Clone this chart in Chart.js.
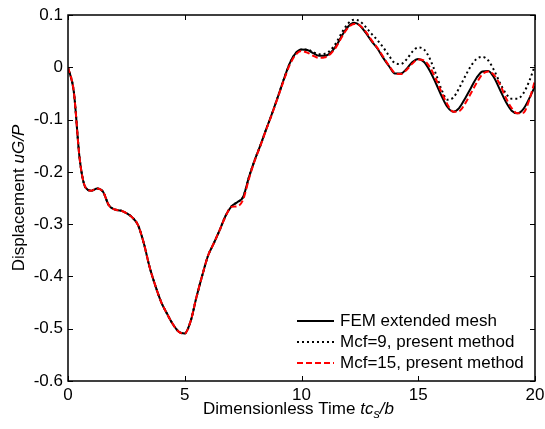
<!DOCTYPE html>
<html>
<head>
<meta charset="utf-8">
<script src="https://cdn.jsdelivr.net/npm/chart.js@4.4.0/dist/chart.umd.min.js"></script>
<style>
  html, body { margin: 0; padding: 0; background: #fff; }
</style>
</head>
<body>
<canvas id="myChart" width="545" height="429"></canvas>
<script>
// dimensionless time tc_s/b
let times = [0, 0.25, 0.5, 0.75, 1, 1.25, 1.5, 1.75, 2, 2.25, 2.5, 2.75, 3, 3.25, 3.5, 3.75,
  4, 4.25, 4.5, 4.75, 5, 5.25, 5.5, 5.75, 6, 6.25, 6.5, 6.75, 7, 7.25, 7.5, 7.75,
  8, 8.25, 8.5, 8.75, 9, 9.25, 9.5, 9.75, 10, 10.25, 10.5, 10.75, 11, 11.25, 11.5, 11.75,
  12, 12.25, 12.5, 12.75, 13, 13.25, 13.5, 13.75, 14, 14.25, 14.5, 14.75, 15, 15.25, 15.5, 15.75,
  16, 16.25, 16.5, 16.75, 17, 17.25, 17.5, 17.75, 18, 18.25, 18.5, 18.75, 19, 19.25, 19.5, 19.75, 20];

// FEM extended mesh
let femValues = [0, -0.047, -0.175, -0.230, -0.236, -0.232, -0.238, -0.264, -0.272, -0.274, -0.279, -0.287, -0.302, -0.337, -0.383, -0.419,
  -0.450, -0.472, -0.492, -0.506, -0.509, -0.486, -0.440, -0.398, -0.360, -0.336, -0.311, -0.284, -0.266, -0.258, -0.248, -0.210,
  -0.177, -0.148, -0.117, -0.087, -0.055, -0.022, 0.008, 0.027, 0.034, 0.033, 0.027, 0.022, 0.022, 0.028, 0.042, 0.062,
  0.078, 0.085, 0.080, 0.066, 0.050, 0.036, 0.018, 0.002, -0.012, -0.012, -0.003, 0.010, 0.016, 0.010, -0.007, -0.030,
  -0.055, -0.076, -0.085, -0.078, -0.060, -0.040, -0.020, -0.008, -0.007, -0.020, -0.043, -0.066, -0.083, -0.088, -0.080, -0.060, -0.036];

// Mcf=9, present method
let mcf9Values = [0, -0.047, -0.175, -0.230, -0.236, -0.232, -0.238, -0.264, -0.272, -0.274, -0.279, -0.287, -0.302, -0.337, -0.383, -0.419,
  -0.450, -0.472, -0.492, -0.506, -0.509, -0.486, -0.440, -0.398, -0.360, -0.336, -0.311, -0.284, -0.266, -0.258, -0.248, -0.210,
  -0.177, -0.148, -0.117, -0.087, -0.055, -0.022, 0.008, 0.027, 0.034, 0.034, 0.029, 0.025, 0.026, 0.033, 0.048, 0.068,
  0.084, 0.091, 0.088, 0.077, 0.064, 0.052, 0.038, 0.022, 0.008, 0.006, 0.015, 0.030, 0.038, 0.034, 0.016, -0.012,
  -0.043, -0.062, -0.058, -0.040, -0.018, 0.002, 0.016, 0.020, 0.013, -0.006, -0.030, -0.050, -0.060, -0.060, -0.050, -0.027, 0.004];

// Mcf=15, present method
let mcf15Values = [0, -0.047, -0.175, -0.230, -0.236, -0.232, -0.238, -0.264, -0.272, -0.274, -0.279, -0.287, -0.302, -0.337, -0.383, -0.419,
  -0.450, -0.472, -0.492, -0.506, -0.509, -0.486, -0.440, -0.398, -0.360, -0.336, -0.311, -0.285, -0.267, -0.266, -0.253, -0.213,
  -0.178, -0.149, -0.118, -0.088, -0.056, -0.024, 0.005, 0.024, 0.031, 0.028, 0.022, 0.018, 0.019, 0.026, 0.040, 0.060,
  0.076, 0.083, 0.080, 0.068, 0.052, 0.037, 0.020, 0.003, -0.011, -0.013, -0.005, 0.007, 0.015, 0.013, 0.000, -0.022,
  -0.048, -0.071, -0.085, -0.084, -0.070, -0.050, -0.030, -0.013, -0.008, -0.015, -0.033, -0.058, -0.078, -0.088, -0.087, -0.063, -0.025];

let legendLabels = ['FEM extended mesh', 'Mcf=9, present method', 'Mcf=15, present method'];

const FONT = '"Liberation Sans", Arial, sans-serif';
const FS = 17;

function toPoints(values) {
  return times.map((t, i) => ({ x: t, y: values[i] }));
}

// box round the plot with inward ticks, like matlab
const framePlugin = {
  id: 'frame',
  afterDatasetsDraw(chart) {
    const ctx = chart.ctx;
    const a = chart.chartArea;
    const xs = chart.scales.x, ys = chart.scales.y;
    ctx.save();
    ctx.strokeStyle = '#000';
    ctx.lineWidth = 1.5;
    ctx.strokeRect(a.left, a.top, a.right - a.left, a.bottom - a.top);
    ctx.lineWidth = 1;
    ctx.beginPath();
    xs.ticks.forEach(t => {
      const px = Math.round(xs.getPixelForValue(t.value)) + 0.5;
      ctx.moveTo(px, a.bottom); ctx.lineTo(px, a.bottom - 5);
      ctx.moveTo(px, a.top); ctx.lineTo(px, a.top + 5);
    });
    ys.ticks.forEach(t => {
      const py = Math.round(ys.getPixelForValue(t.value)) + 0.5;
      ctx.moveTo(a.left, py); ctx.lineTo(a.left + 5, py);
      ctx.moveTo(a.right, py); ctx.lineTo(a.right - 5, py);
    });
    ctx.stroke();
    ctx.restore();
  }
};

// draw a run of text pieces, each {text, italic, sub}
function drawRun(ctx, pieces, size, cx, cy) {
  const fontFor = p => (p.italic ? 'italic ' : '') + (p.sub ? size * 0.75 : size) + 'px ' + FONT;
  let total = 0;
  pieces.forEach(p => { ctx.font = fontFor(p); total += ctx.measureText(p.text).width; });
  let x = cx - total / 2;
  ctx.textAlign = 'left';
  ctx.textBaseline = 'middle';
  pieces.forEach(p => {
    ctx.font = fontFor(p);
    ctx.fillText(p.text, x, cy + (p.sub ? size * 0.35 : 0));
    x += ctx.measureText(p.text).width;
  });
}

const labelsPlugin = {
  id: 'labels',
  afterDraw(chart) {
    const ctx = chart.ctx;
    const a = chart.chartArea;
    ctx.save();
    ctx.fillStyle = '#000';
    // x axis title
    drawRun(ctx, [
      { text: 'Dimensionless Time ' },
      { text: 'tc', italic: true },
      { text: 's', italic: true, sub: true },
      { text: '/b', italic: true }
    ], FS, (a.left + a.right) / 2 - 3, 409);
    // y axis title
    ctx.save();
    ctx.translate(19, (a.top + a.bottom) / 2);
    ctx.rotate(-Math.PI / 2);
    drawRun(ctx, [
      { text: 'Displacement ' },
      { text: 'uG/P', italic: true }
    ], FS, 0, 0);
    ctx.restore();

    // legend
    const rows = [321, 342, 363];
    chart.data.datasets.forEach((ds, i) => {
      const y = rows[i];
      ctx.save();
      ctx.strokeStyle = ds.borderColor;
      ctx.lineWidth = ds.borderWidth;
      ctx.setLineDash(ds.borderDash || []);
      ctx.beginPath();
      ctx.moveTo(297, y); ctx.lineTo(334, y);
      ctx.stroke();
      ctx.restore();
      ctx.font = FS + 'px ' + FONT;
      ctx.textAlign = 'left';
      ctx.textBaseline = 'middle';
      ctx.fillText(legendLabels[i], 340, y);
    });
    ctx.restore();
  }
};

function fmtTick(v) {
  const r = Math.round(v * 10) / 10;
  return r === 0 ? '0' : String(r);
}

const chart = document.getElementById('myChart').getContext('2d');
const myChart = new Chart(chart, {
  type: 'line',
  data: {
    datasets: [{
      label: legendLabels[0],
      data: toPoints(femValues),
      borderColor: '#000',
      borderWidth: 2,
      order: 2
    }, {
      label: legendLabels[1],
      data: toPoints(mcf9Values),
      borderColor: '#000',
      borderWidth: 2,
      borderDash: [2, 3],
      order: 1
    }, {
      label: legendLabels[2],
      data: toPoints(mcf15Values),
      borderColor: '#ff0000',
      borderWidth: 2,
      borderDash: [6, 3],
      order: 0
    }]
  },
  options: {
    responsive: false,
    animation: false,
    devicePixelRatio: 1,
    layout: { padding: { left: 0, right: 10, top: 15, bottom: 0 } },
    elements: {
      point: { radius: 0 },
      line: { tension: 0.4, cubicInterpolationMode: 'monotone' }
    },
    plugins: {
      legend: { display: false },
      tooltip: { enabled: false }
    },
    scales: {
      x: {
        type: 'linear',
        min: 0, max: 20,
        grid: { display: false, drawTicks: false },
        border: { display: false },
        ticks: { stepSize: 5, color: '#000', padding: 4, font: { family: FONT, size: FS }, maxRotation: 0 },
        afterFit(scale) { scale.height = 48; scale.paddingLeft = 0; scale.paddingRight = 0; }
      },
      y: {
        min: -0.6, max: 0.1,
        grid: { display: false, drawTicks: false },
        border: { display: false },
        ticks: { stepSize: 0.1, color: '#000', padding: 5, font: { family: FONT, size: FS }, callback: fmtTick },
        afterFit(scale) { scale.width = 68; scale.paddingTop = 0; scale.paddingBottom = 0; }
      }
    }
  },
  plugins: [framePlugin, labelsPlugin]
});
</script>
</body>
</html>
